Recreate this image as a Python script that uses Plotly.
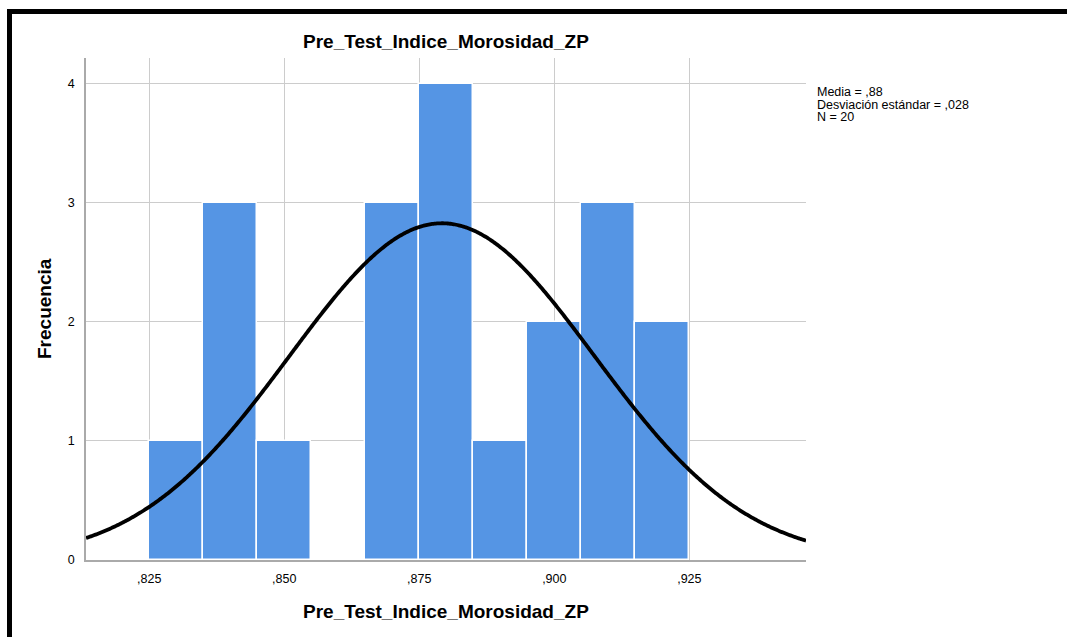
import numpy as np
import plotly.graph_objects as go

# Data
bin_edges_left = [0.825, 0.835, 0.845, 0.855, 0.865, 0.875, 0.885, 0.895, 0.905, 0.915]
bin_width = 0.01
counts = [1, 3, 1, 0, 3, 4, 1, 2, 3, 2]
mean_val = 0.8792
sd_val = 0.0282
n_obs = 20
x_tick_vals = [0.825, 0.850, 0.875, 0.900, 0.925]
x_tick_text = [",825", ",850", ",875", ",900", ",925"]
y_tick_vals = [0, 1, 2, 3, 4]
stats_lines = ["Media = ,88", "Desviación estándar = ,028", "N = 20"]
title_text = "Pre_Test_Indice_Morosidad_ZP"
x_title = "Pre_Test_Indice_Morosidad_ZP"
y_title = "Frecuencia"

FONT = "Liberation Sans, Arial, sans-serif"
W, H = 1067, 637
L, R, T, B = 86, 261, 58, 77
x_range = [0.8133, 0.9466]
y_range = [0, 4.218]

centers = [e + bin_width / 2 for e in bin_edges_left]

xs = np.linspace(x_range[0], x_range[1], 600)
ys = n_obs * bin_width / (sd_val * np.sqrt(2 * np.pi)) * np.exp(-0.5 * ((xs - mean_val) / sd_val) ** 2)

fig = go.Figure()
fig.add_trace(go.Bar(
    x=centers, y=counts, width=bin_width,
    marker=dict(color="rgb(85,149,228)", line=dict(color="white", width=1.5)),
    hoverinfo="skip", showlegend=False,
))
fig.add_trace(go.Scatter(
    x=xs, y=ys, mode="lines",
    line=dict(color="black", width=3.8, simplify=False),
    hoverinfo="skip", showlegend=False,
))

pw = W - L - R
ph = H - T - B

def px_to_paper_x(px):
    return (px - L) / pw

def px_to_paper_y(py):
    return 1 - (py - T) / ph

shapes = [
    # outer frame (left and top)
    dict(type="line", xref="paper", yref="paper",
         x0=px_to_paper_x(9.5), x1=px_to_paper_x(9.5),
         y0=px_to_paper_y(9), y1=px_to_paper_y(650),
         line=dict(color="black", width=5)),
    dict(type="line", xref="paper", yref="paper",
         x0=px_to_paper_x(7), x1=px_to_paper_x(1080),
         y0=px_to_paper_y(11.5), y1=px_to_paper_y(11.5),
         line=dict(color="black", width=5)),
]

annotations = []
for i, s in enumerate(stats_lines):
    annotations.append(dict(
        xref="paper", yref="paper",
        x=px_to_paper_x(815), y=px_to_paper_y(92 + 12.5 * i),
        xanchor="left", yanchor="middle", showarrow=False,
        text=s, font=dict(family=FONT, size=12.5, color="black"),
    ))
annotations.append(dict(
    xref="paper", yref="paper", x=0.5, y=px_to_paper_y(41.5),
    xanchor="center", yanchor="middle", showarrow=False,
    text="<b>" + title_text + "</b>", font=dict(family=FONT, size=19, color="black"),
))
annotations.append(dict(
    xref="paper", yref="paper", x=0.5, y=px_to_paper_y(611),
    xanchor="center", yanchor="middle", showarrow=False,
    text="<b>" + x_title + "</b>", font=dict(family=FONT, size=19, color="black"),
))
annotations.append(dict(
    xref="paper", yref="paper", x=px_to_paper_x(44), y=0.5,
    xanchor="center", yanchor="middle", showarrow=False, textangle=-90,
    text="<b>" + y_title + "</b>", font=dict(family=FONT, size=19, color="black"),
))

fig.update_layout(
    width=W, height=H,
    margin=dict(l=L, r=R, t=T, b=B, pad=0),
    paper_bgcolor="white", plot_bgcolor="white",
    bargap=0,
    shapes=shapes,
    annotations=annotations,
    font=dict(family=FONT, size=12, color="black"),
    xaxis=dict(
        range=x_range, tickvals=x_tick_vals, ticktext=x_tick_text,
        showgrid=True, gridcolor="rgb(204,204,204)", gridwidth=1.2,
        showline=True, linecolor="rgb(170,170,170)", linewidth=1.5,
        ticks="", zeroline=False, ticklabelstandoff=6,
        tickfont=dict(family=FONT, size=12.5, color="black"),
    ),
    yaxis=dict(
        range=y_range, tickvals=y_tick_vals,
        showgrid=True, gridcolor="rgb(204,204,204)", gridwidth=1.2,
        showline=True, linecolor="rgb(170,170,170)", linewidth=1.5,
        ticks="", zeroline=False, ticklabelstandoff=7,
        tickfont=dict(family=FONT, size=12.5, color="black"),
    ),
)

fig.write_html("out.html", config={"displayModeBar": False},
               post_script="document.body.style.margin='0';")
